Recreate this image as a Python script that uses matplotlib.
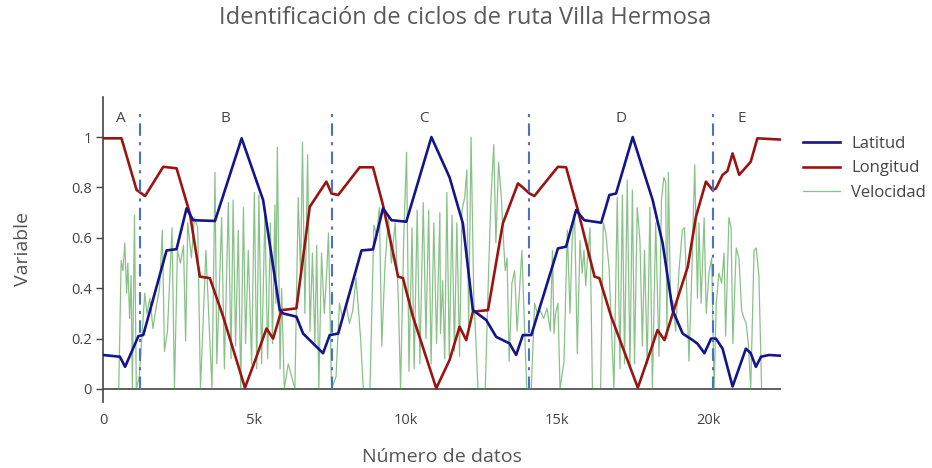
import matplotlib
matplotlib.use("Agg")
import matplotlib.pyplot as plt
from matplotlib.ticker import FixedLocator

plt.rcParams['font.family'] = ['Open Sans', 'DejaVu Sans']

# ---------------- data (x in thousands of samples) ----------------
lat_x = [0, 0.56, 0.73, 1.17, 1.33, 2.1, 2.43, 2.76, 2.98, 3.7,
         4.58, 5.29, 5.84, 5.95, 6.39, 6.61, 7.27, 7.49, 7.77, 8.54,
         8.92, 9.25, 9.53, 10.02, 10.85, 11.45, 11.89, 12.22, 12.66, 12.99,
         13.43, 13.65, 13.87, 14.15, 15.03, 15.3, 15.63, 15.9, 16.46, 16.73,
         16.95, 17.5, 18.16, 18.49, 18.82, 19.15, 19.48, 19.64, 19.87, 20.09,
         20.25, 20.47, 20.8, 21.24, 21.4, 21.57, 21.74, 22.0, 22.4]
lat_y = [0.135, 0.128, 0.088, 0.21, 0.214, 0.55, 0.555, 0.717, 0.67, 0.667,
         0.995, 0.75, 0.313, 0.30, 0.287, 0.22, 0.142, 0.214, 0.22, 0.55,
         0.554, 0.717, 0.67, 0.664, 1.0, 0.84, 0.657, 0.313, 0.274, 0.207,
         0.181, 0.135, 0.214, 0.214, 0.558, 0.565, 0.71, 0.67, 0.66, 0.77,
         0.776, 1.0, 0.75, 0.578, 0.313, 0.22, 0.194, 0.18, 0.142, 0.20,
         0.20, 0.16, 0.01, 0.16, 0.142, 0.088, 0.128, 0.135, 0.132]

lon_x = [0, 0.61, 1.11, 1.39, 1.99, 2.43, 2.87, 3.2, 3.53, 3.97,
         4.69, 5.07, 5.4, 5.62, 5.9, 6.39, 6.83, 7.38, 7.55, 7.77,
         8.48, 8.92, 9.25, 9.75, 9.91, 10.24, 11.01, 11.45, 11.78, 12.0,
         12.22, 12.72, 13.21, 13.71, 13.87, 14.09, 14.25, 15.03, 15.3, 15.69,
         16.24, 16.4, 16.79, 17.67, 18.1, 18.32, 18.55, 18.93, 19.32, 19.59,
         19.92, 20.14, 20.25, 20.47, 20.63, 20.8, 21.02, 21.4, 21.62, 22.4]
lon_y = [0.995, 0.995, 0.79, 0.766, 0.882, 0.876, 0.697, 0.446, 0.44, 0.287,
         0.005, 0.128, 0.24, 0.20, 0.313, 0.32, 0.723, 0.823, 0.776, 0.77,
         0.88, 0.88, 0.73, 0.446, 0.44, 0.287, 0.003, 0.115, 0.247, 0.194,
         0.307, 0.313, 0.657, 0.816, 0.80, 0.776, 0.766, 0.882, 0.88, 0.71,
         0.446, 0.44, 0.287, 0.005, 0.155, 0.234, 0.194, 0.34, 0.485, 0.684,
         0.823, 0.79, 0.796, 0.85, 0.865, 0.935, 0.85, 0.902, 0.995, 0.99]

vel_x = [0.52, 0.60, 0.66, 0.72, 0.78, 0.82, 0.88, 0.93, 0.97, 1.04,
         1.10, 1.20, 1.38, 1.45, 1.55, 1.65, 1.75, 1.87, 1.96, 2.03,
         2.13, 2.28, 2.36, 2.46, 2.56, 2.66, 2.73, 2.80, 2.92, 3.02,
         3.13, 3.22, 3.40, 3.60, 3.70,
         3.76, 3.92, 4.01, 4.14, 4.23, 4.30, 4.38, 4.47, 4.55, 4.64,
         4.71, 4.80, 4.91, 5.00, 5.08, 5.15, 5.24, 5.35, 5.44, 5.53,
         5.60, 5.68, 5.71, 5.76, 5.85, 5.90, 5.99, 6.12, 6.34, 6.45,
         6.53, 6.59, 6.67, 6.76, 6.84, 6.92, 7.00, 7.06, 7.13, 7.22,
         7.31, 7.39, 7.45, 7.55, 7.70, 7.81, 7.92, 8.03, 8.14, 8.25,
         8.36, 8.45, 8.51, 8.60, 8.82, 8.95, 9.04, 9.13, 9.21, 9.32,
         9.43, 9.53, 9.65, 9.76, 9.83, 9.94, 10.03, 10.11, 10.21, 10.28,
         10.38, 10.47, 10.58, 10.67, 10.76, 10.84, 10.93, 11.02, 11.13,
         11.15, 11.22, 11.29, 11.36, 11.44, 11.53, 11.61, 11.69, 11.78, 11.86,
         11.95, 12.02, 12.08, 12.16, 12.25, 12.30, 12.39, 12.63, 12.74, 12.82,
         12.91, 12.98, 13.07, 13.16, 13.23, 13.29, 13.35, 13.42, 13.51, 13.60,
         13.68, 13.75, 13.84, 13.93, 14.00, 14.15, 14.26, 14.35, 14.45, 14.56,
         14.67, 14.78, 14.85,
         14.90, 14.95, 15.03, 15.10, 15.23, 15.34, 15.43, 15.50, 15.58, 15.67,
         15.76, 15.83, 15.89, 15.95, 16.00, 16.09, 16.17, 16.44, 16.53, 16.61,
         16.72, 16.88, 16.99, 17.08, 17.16, 17.23, 17.32, 17.41, 17.49, 17.56,
         17.65, 17.74, 17.82, 17.89, 17.98, 18.07, 18.15, 18.26, 18.37, 18.45,
         18.53, 18.59, 18.63, 18.68, 18.75, 18.83, 18.92, 19.03, 19.14, 19.21,
         19.27, 19.36, 19.45, 19.55, 19.64, 19.69, 19.76, 19.86, 19.93, 20.02,
         20.11, 20.19, 20.26, 20.35, 20.44, 20.52, 20.57, 20.68, 20.75, 20.81,
         20.92, 21.01, 21.10, 21.18, 21.25, 21.32, 21.40, 21.51, 21.58, 21.67,
         21.76]
vel_y = [0.0, 0.51, 0.47, 0.58, 0.38, 0.50, 0.28, 0.45, 0.0, 0.69,
         0.0, 0.05, 0.38, 0.30, 0.36, 0.24, 0.32, 0.40, 0.63, 0.15,
         0.23, 0.64, 0.0, 0.55, 0.50, 0.57, 0.19, 0.66, 0.52, 0.68,
         0.64, 0.0, 0.55, 0.0, 0.86,
         0.10, 0.68, 0.08, 0.74, 0.12, 0.75, 0.17, 0.63, 0.0, 0.72,
         0.18, 0.55, 0.10, 0.78, 0.08, 0.77, 0.10, 0.70, 0.12, 0.66,
         0.18, 0.73, 0.34, 0.96, 0.08, 0.40, 0.0, 0.10, 0.0, 0.76,
         0.45, 0.98, 0.30, 0.93, 0.23, 0.54, 0.18, 0.57, 0.0, 0.54,
         0.30, 0.46, 0.62, 0.0, 0.05, 0.34, 0.28, 0.34, 0.26, 0.31,
         0.44, 0.30, 0.20, 0.0, 0.0, 0.65, 0.61, 0.72, 0.17, 0.50,
         0.68, 0.50, 0.66, 0.35, 0.0, 0.62, 0.94, 0.07, 0.64, 0.08,
         0.71, 0.10, 0.74, 0.20, 0.71, 0.10, 0.66, 0.18, 0.70,
         0.22, 0.43, 0.12, 0.78, 0.13, 0.69, 0.15, 0.66, 0.13, 0.71,
         0.76, 0.87, 0.25, 1.0, 0.36, 0.24, 0.0, 0.0, 0.47, 0.76,
         0.97, 0.58, 0.90, 0.76, 0.59, 0.47, 0.52, 0.11, 0.42, 0.47,
         0.23, 0.37, 0.55, 0.23, 0.0, 0.0, 0.34, 0.30, 0.31, 0.28,
         0.32, 0.23, 0.55,
         0.22, 0.30, 0.34, 0.0, 0.11, 0.63, 0.30, 0.59, 0.70, 0.14,
         0.59, 0.46, 0.55, 0.41, 0.51, 0.64, 0.0, 0.0, 0.66, 0.62,
         0.48, 0.0, 0.76, 0.08, 0.77, 0.10, 0.83, 0.08, 0.79, 0.10,
         0.72, 0.59, 0.17, 0.55, 0.10, 0.72, 0.0, 0.66, 0.13, 0.75,
         0.84, 0.82, 0.20, 0.86, 0.34, 0.35, 0.23, 0.47, 0.63, 0.64,
         0.45, 0.11, 0.45, 0.89, 0.36, 0.66, 0.34, 0.68, 0.30, 0.46,
         0.52, 0.0, 0.34, 0.46, 0.42, 0.54, 0.21, 0.68, 0.64, 0.18,
         0.56, 0.52, 0.31, 0.28, 0.26, 0.18, 0.0, 0.55, 0.56, 0.45,
         0.0]

cycle_bounds = [1.22, 7.56, 14.06, 20.16]
cycle_labels = ["A", "B", "C", "D", "E"]
cycle_label_x = [0.6, 4.06, 10.6, 17.1, 21.1]

x_ticks = [0, 5, 10, 15, 20]
x_ticklabels = ["0", "5k", "10k", "15k", "20k"]
y_ticks = [0, 0.2, 0.4, 0.6, 0.8, 1.0]
y_ticklabels = ["0", "0.2", "0.4", "0.6", "0.8", "1"]

# ---------------- figure ----------------
W, H = 932, 468
fig = plt.figure(figsize=(W / 100, H / 100), dpi=100)
ax = fig.add_axes([103 / W, 1 - 402 / H, (781 - 103) / W, (402 - 97) / H])

K = 1000.0
ax.plot([v * K for v in vel_x], vel_y, color="#3a9a3a", lw=0.9, alpha=0.6,
        label="Velocidad", zorder=2)
ax.plot([v * K for v in lat_x], lat_y, color="#14148c", lw=1.9,
        label="Latitud", zorder=4)
ax.plot([v * K for v in lon_x], lon_y, color="#9b1414", lw=1.9,
        label="Longitud", zorder=3)

for b in cycle_bounds:
    ax.plot([b * K, b * K], [0, 1.09], color="#4a72c8", lw=1.5,
            linestyle=(0, (6, 3, 1.5, 3)), zorder=5)
for lx, lt in zip(cycle_label_x, cycle_labels):
    ax.text(lx * K, 1.075, lt, ha="center", va="center", fontsize=11,
            color="#444444")

ax.axhline(0, color="#444444", lw=1.2, zorder=1)

ax.set_xlim(0, 22.4 * K)
ax.set_ylim(-0.0516, 1.159)

ax.xaxis.set_major_locator(FixedLocator([t * K for t in x_ticks]))
ax.set_xticklabels(x_ticklabels)
ax.set_yticks(y_ticks)
ax.set_yticklabels(y_ticklabels)

for s in ["top", "right", "bottom"]:
    ax.spines[s].set_visible(False)
ax.spines["left"].set_color("#444444")
ax.spines["left"].set_linewidth(1.2)

ax.tick_params(axis="x", length=0, pad=8, labelsize=10.5, labelcolor="#444444")
ax.tick_params(axis="y", length=5, width=1, color="#444444", pad=3,
               labelsize=10.5, labelcolor="#444444")

ax.set_xlabel("Número de datos", fontsize=14, color="#555555", labelpad=14)
ax.set_ylabel("Variable", fontsize=14, color="#555555", labelpad=28)

fig.text(465 / W, 1 - 18 / H, "Identificación de ciclos de ruta Villa Hermosa",
         ha="center", va="center", fontsize=17, color="#5a5a5a")

handles, labels = ax.get_legend_handles_labels()
order = [1, 2, 0]
leg = fig.legend([handles[i] for i in order], [labels[i] for i in order],
                 loc="upper left", bbox_to_anchor=(803 / W, 1 - 136 / H),
                 frameon=False, fontsize=12, handlelength=2.2,
                 handletextpad=0.7, labelspacing=0.5, borderpad=0,
                 borderaxespad=0)
for t in leg.get_texts():
    t.set_color("#444444")

fig.savefig("out.png", dpi=100, facecolor="white")
